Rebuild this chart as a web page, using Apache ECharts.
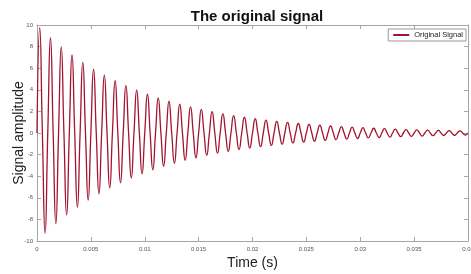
<!DOCTYPE html>
<html>
<head>
<meta charset="utf-8">
<script src="https://cdn.jsdelivr.net/npm/echarts@6/dist/echarts.min.js"></script>
<style>
  html, body { margin: 0; padding: 0; background: #fff; }
  #chart { width: 471px; height: 274px; }
</style>
</head>
<body>
<div id="chart"></div>
<script>
// one oscillation lasts about 1 ms (5 peaks per 0.005 s)
const period = 0.001
// height of each positive peak
const peakValues = [9.75, 8.82, 7.98, 7.22, 6.54, 5.91, 5.35, 4.84, 4.38, 3.97,
  3.59, 3.25, 2.94, 2.66, 2.41, 2.18, 1.97, 1.78, 1.61, 1.46,
  1.32, 1.19, 1.08, 0.98, 0.88, 0.80, 0.72, 0.65, 0.59, 0.54,
  0.49, 0.44, 0.40, 0.36, 0.32, 0.29, 0.27, 0.24, 0.22, 0.20]
// depth of each negative trough
const troughValues = [-9.28, -8.39, -7.59, -6.87, -6.22, -5.63, -5.09, -4.61, -4.17, -3.77,
  -3.41, -3.09, -2.80, -2.53, -2.29, -2.07, -1.87, -1.70, -1.53, -1.39,
  -1.26, -1.14, -1.03, -0.93, -0.84, -0.76, -0.69, -0.62, -0.56, -0.51,
  -0.46, -0.42, -0.38, -0.34, -0.31, -0.28, -0.25, -0.23, -0.21, -0.19]
const xTicks = ['0', '0.005', '0.01', '0.015', '0.02', '0.025', '0.03', '0.035', '0.04']
const yTicks = ['-10', '-8', '-6', '-4', '-2', '0', '2', '4', '6', '8', '10']

// zero crossing, peak, zero crossing, trough for every cycle
const signal = []
peakValues.forEach((p, k) => {
  const t0 = k * period
  signal.push([t0, 0])
  signal.push([t0 + period / 4, p])
  signal.push([t0 + period / 2, 0])
  signal.push([t0 + 3 * period / 4, troughValues[k]])
})
signal.push([peakValues.length * period, 0])

const chart = echarts.init(document.getElementById('chart'), null, { renderer: 'canvas' })

const axisGray = '#a6a6a6'
const tickFont = { fontSize: 6, color: '#555', fontFamily: 'Liberation Sans' }

const option = {
  animation: false,
  title: {
    text: 'The original signal',
    left: 252,
    top: 4,
    textAlign: 'center',
    textStyle: { fontSize: 15, fontWeight: 'bold', color: '#111', fontFamily: 'Liberation Sans' }
  },
  legend: {
    right: 5,
    top: 29,
    padding: [2, 3, 2, 5],
    borderColor: '#999',
    borderWidth: 1,
    backgroundColor: '#fff',
    itemWidth: 16,
    itemHeight: 2,
    itemGap: 4,
    icon: 'rect',
    textStyle: { fontSize: 7.5, color: '#222', fontFamily: 'Liberation Sans' },
    data: ['Original Signal']
  },
  grid: { left: 37, right: 3, top: 25, bottom: 33, containLabel: false, outerBoundsMode: 'none' },
  xAxis: [
    {
      type: 'value',
      min: 0,
      max: 0.04,
      interval: 0.005,
      name: 'Time (s)',
      nameLocation: 'middle',
      nameGap: 15,
      nameMoveOverlap: false,
      nameTextStyle: { fontSize: 14, color: '#222', fontFamily: 'Liberation Sans' },
      axisLine: { onZero: false, lineStyle: { color: axisGray } },
      axisTick: { inside: true, length: 4, lineStyle: { color: axisGray } },
      axisLabel: {
        ...tickFont,
        margin: 5,
        hideOverlap: false,
        formatter: v => xTicks[Math.round(v / 0.005)]
      },
      splitLine: { show: false }
    },
    {
      type: 'value',
      position: 'top',
      min: 0,
      max: 0.04,
      interval: 0.005,
      axisLine: { show: true, onZero: false, lineStyle: { color: axisGray } },
      axisTick: { inside: true, length: 4, lineStyle: { color: axisGray } },
      axisLabel: { show: false },
      splitLine: { show: false }
    }
  ],
  yAxis: [
    {
      type: 'value',
      min: -10,
      max: 10,
      interval: 2,
      name: 'Signal amplitude',
      nameLocation: 'middle',
      nameGap: 11,
      nameMoveOverlap: false,
      nameTextStyle: { fontSize: 14, color: '#222', fontFamily: 'Liberation Sans' },
      axisLine: { show: true, onZero: false, lineStyle: { color: axisGray } },
      axisTick: { show: true, inside: true, length: 4, lineStyle: { color: axisGray } },
      axisLabel: { ...tickFont, margin: 4, formatter: v => yTicks[Math.round((v + 10) / 2)] },
      splitLine: { show: false }
    },
    {
      type: 'value',
      position: 'right',
      min: -10,
      max: 10,
      interval: 2,
      axisLine: { show: true, onZero: false, lineStyle: { color: axisGray } },
      axisTick: { show: true, inside: true, length: 4, lineStyle: { color: axisGray } },
      axisLabel: { show: false },
      splitLine: { show: false }
    }
  ],
  series: [
    {
      name: 'Original Signal',
      type: 'line',
      data: signal,
      smooth: 0.55,
      showSymbol: false,
      clip: true,
      lineStyle: { color: '#a2142f', width: 1.3 },
      itemStyle: { color: '#a2142f' }
    }
  ]
}

chart.setOption(option)
</script>
</body>
</html>
